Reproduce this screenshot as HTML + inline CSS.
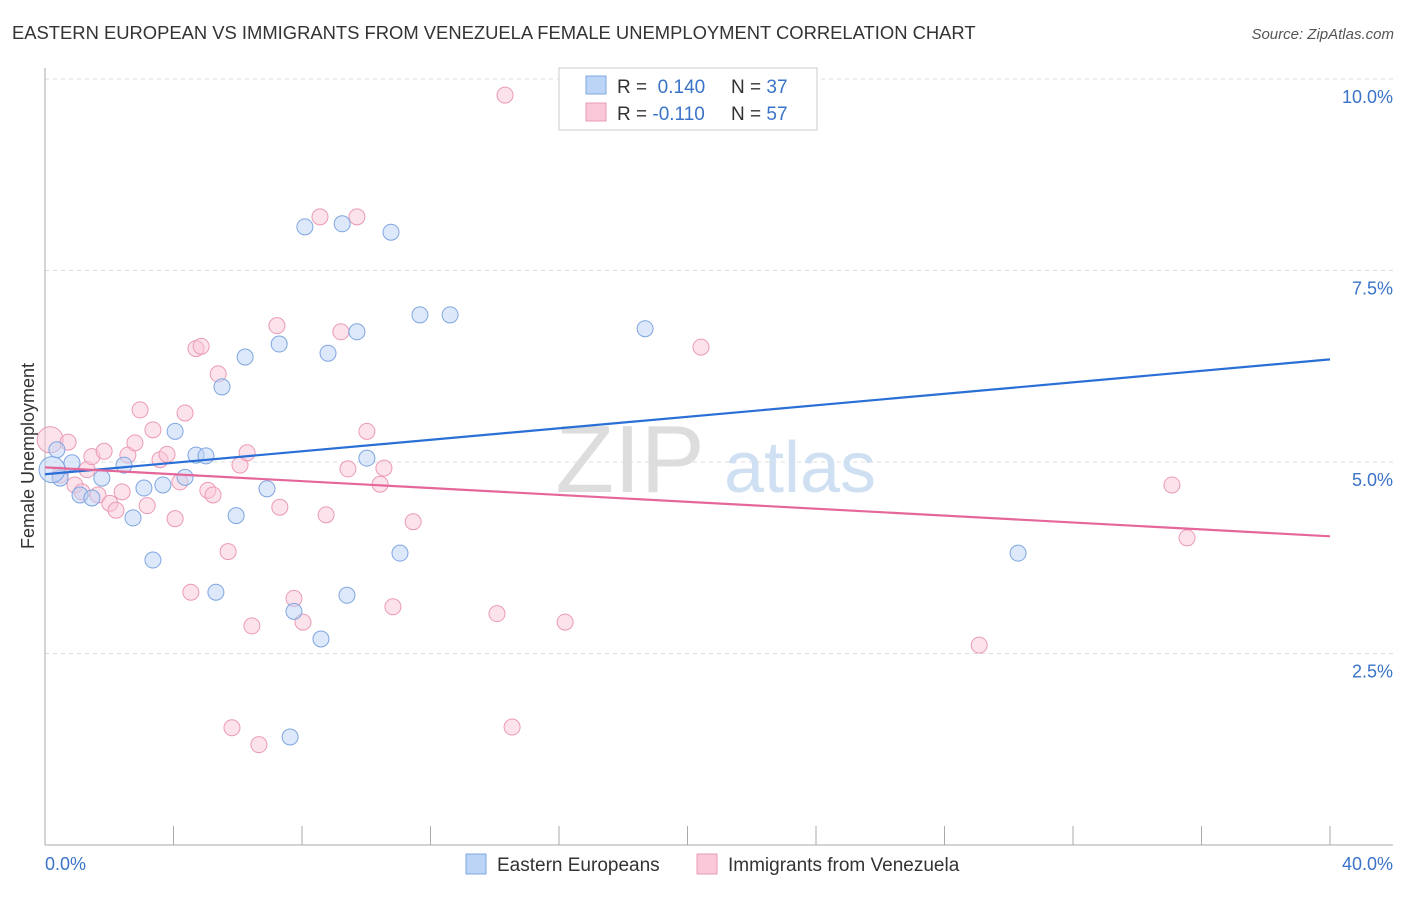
<!DOCTYPE html>
<html><head><meta charset="utf-8"><style>
body{margin:0;background:#fff;font-family:"Liberation Sans",sans-serif;}
svg text{font-family:"Liberation Sans",sans-serif;}
</style></head><body>
<svg id="chart" width="1406" height="892">
<text x="12" y="39" font-size="18.4" fill="#333">EASTERN EUROPEAN VS IMMIGRANTS FROM VENEZUELA FEMALE UNEMPLOYMENT CORRELATION CHART</text>
<text x="1394" y="39" font-size="15" fill="#555" text-anchor="end" font-style="italic">Source: ZipAtlas.com</text>
<g id="grid"></g>
<text x="630" y="492" font-size="96" fill="#ddd" font-family="Liberation Serif" text-anchor="middle">ZIP</text>
<text x="800" y="492" font-size="72" fill="#cfe0f3" text-anchor="middle">atlas</text>
<g id="points"></g>
<g id="lines"></g>
<text transform="translate(34,456) rotate(-90)" font-size="18" fill="#333" text-anchor="middle">Female Unemployment</text>
<text x="45" y="870" font-size="18" fill="#3a73c8">0.0%</text>
<text x="1393" y="870" font-size="18" fill="#3a73c8" text-anchor="end">40.0%</text>
<g>
<rect x="559" y="68" width="258" height="62" fill="#fff" stroke="#ccc"/>
<rect x="586" y="76" width="20" height="18" fill="#bcd4f5" stroke="#7fa6e0"/>
<rect x="586" y="103" width="20" height="18" fill="#fac8d8" stroke="#eb9ab6"/>
<text x="617" y="93" font-size="19" fill="#333">R = <tspan fill="#3a73c8">&#160;0.140</tspan><tspan x="731">N = </tspan><tspan fill="#3a73c8">37</tspan></text>
<text x="617" y="120" font-size="19" fill="#333">R = <tspan fill="#3a73c8">-0.110</tspan><tspan x="731">N = </tspan><tspan fill="#3a73c8">57</tspan></text>
</g>
<g><rect x="466" y="854" width="20" height="20" fill="#bcd4f5" stroke="#7fa6e0"/><text x="497" y="871" font-size="19" fill="#333">Eastern Europeans</text></g>
<g><rect x="697" y="854" width="20" height="20" fill="#fac8d8" stroke="#eb9ab6"/><text x="728" y="871" font-size="19" fill="#333">Immigrants from Venezuela</text></g>
</svg>
<script>
const yTicks=[2.5,5.0,7.5,10.0];
const xTicks=[0,4,8,12,16,20,24,28,32,36,40];
const blueX=[0.37,0.47,0.84,1.09,1.46,1.77,2.46,2.74,3.08,3.36,3.67,4.05,4.36,4.70,5.01,5.32,5.51,5.95,6.23,6.91,7.29,7.75,7.63,8.09,8.59,8.81,9.25,9.40,9.71,10.02,10.77,11.05,11.67,12.61,18.68,30.29,0.22];
const blueY=[5.16,4.79,4.99,4.57,4.53,4.79,4.96,4.27,4.66,3.72,4.70,5.40,4.80,5.09,5.08,3.30,5.98,4.30,6.37,4.65,6.54,3.05,1.41,8.07,2.69,6.42,8.11,3.26,6.70,5.05,8.00,3.81,6.92,6.92,6.74,3.81,4.90];
const pinkX=[0.16,0.47,0.72,0.93,1.15,1.31,1.46,1.65,1.84,2.02,2.21,2.40,2.58,2.80,2.96,3.18,3.36,3.58,3.80,4.05,4.20,4.36,4.54,4.70,4.86,5.07,5.23,5.39,5.70,5.82,6.07,6.29,6.44,6.66,7.22,7.31,7.75,8.03,8.56,8.75,9.21,9.43,9.71,10.02,10.43,10.55,10.83,11.46,14.07,14.32,14.54,16.19,20.42,29.08,35.08,35.55];
const pinkY=[5.29,4.83,5.26,4.70,4.61,4.90,5.07,4.57,5.14,4.46,4.37,4.61,5.09,5.25,5.68,4.43,5.42,5.03,5.10,4.26,4.74,5.64,3.30,6.48,6.51,4.63,4.57,6.15,3.83,1.53,4.96,5.12,2.86,1.31,6.78,4.41,3.22,2.91,8.20,4.31,6.70,4.91,8.20,5.40,4.71,4.92,3.11,4.22,3.02,9.79,1.54,2.91,6.50,2.61,4.70,4.01];
const blueTrend=[4.84,6.34];
const pinkTrend=[4.93,4.03];
const NS="http://www.w3.org/2000/svg";
const X=v=>45+v/40*1285, Y=v=>845-v/10*766;
function mk(tag,attrs,parent){const e=document.createElementNS(NS,tag);for(const k in attrs)e.setAttribute(k,attrs[k]);document.getElementById(parent).appendChild(e);return e;}
yTicks.forEach(t=>{
 const l=mk('line',{x1:45,x2:1393,y1:Y(t),y2:Y(t),stroke:'#ddd','stroke-dasharray':'4,4'},'grid');
 
 
 const tx=mk('text',{x:1393,y:Y(t)+24,'font-size':18,fill:'#3a73c8','text-anchor':'end'},'grid');
 tx.textContent=t.toFixed(1)+'%';
 
 
});
const ya=mk('line',{x1:45,x2:45,y1:68,y2:845,stroke:'#aaa'},'grid');


const xa=mk('line',{x1:45,x2:1393,y1:845,y2:845,stroke:'#aaa'},'grid');


xTicks.forEach(t=>{
 const l=mk('line',{x1:X(t),x2:X(t),y1:826,y2:845,stroke:'#aaa'},'grid');
 
 
});
function dots(xs,ys,fill,stroke,name){
 xs.forEach((x,i)=>{
  const big=(i===xs.length-1&&name==='blue-point')||(i===0&&name==='pink-point');
  const c=mk('circle',{cx:X(x),cy:Y(ys[i]),r:big?13:8,fill:fill,'fill-opacity':0.5,stroke:stroke,'stroke-width':1},'points');
  
  
 });
}
dots(pinkX,pinkY,'#fac8d8','#eb9ab6','pink-point');
dots(blueX,blueY,'#bcd4f5','#7fa6e0','blue-point');
const bl=mk('line',{x1:X(0),x2:X(40),y1:Y(blueTrend[0]),y2:Y(blueTrend[1]),stroke:'#2a6fd6','stroke-width':2.2},'lines');


const pl=mk('line',{x1:X(0),x2:X(40),y1:Y(pinkTrend[0]),y2:Y(pinkTrend[1]),stroke:'#e5679a','stroke-width':2.2},'lines');


</script>
</body></html>
